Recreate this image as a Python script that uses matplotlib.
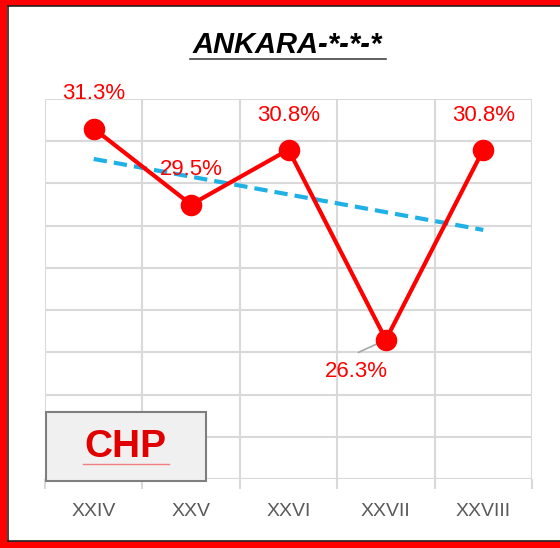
import numpy as np
import matplotlib
matplotlib.use('Agg')
import matplotlib.pyplot as plt
from matplotlib.patches import Rectangle

plt.rcParams['font.family'] = ['Liberation Sans', 'DejaVu Sans']

terms = ['XXIV', 'XXV', 'XXVI', 'XXVII', 'XXVIII']
chp_share = [31.3, 29.5, 30.8, 26.3, 30.8]
title = 'ANKARA-*-*-*'
party = 'CHP'

x = np.arange(1, len(terms) + 1)

fig = plt.figure(figsize=(5.6, 5.48), dpi=100)
ax = fig.add_axes([0.0804, 0.1259, 0.8696, 0.6934])

# trend line (linear fit)
k, b = np.polyfit(x, chp_share, 1)
ax.plot(x, k * x + b, color='#1fb0e6', lw=3, dashes=(3.2, 1.7), zorder=2)

ax.plot(x, chp_share, color='#ff0000', lw=3, marker='o', ms=14.5, zorder=3)

ax.set_xlim(0.5, len(terms) + 0.5)
ax.set_ylim(23, 32)
ax.set_yticks(np.arange(23, 33, 1))
ax.set_xticks(x)
ax.set_xticklabels(terms, fontsize=14, color='#595959')
ax.set_xticks(np.arange(0.5, len(terms) + 1, 1), minor=True)
ax.tick_params(axis='x', which='major', length=0, pad=17)
ax.tick_params(axis='x', which='minor', length=7, color='#d9d9d9', width=1.5)
ax.tick_params(axis='y', length=0, labelleft=False)
ax.grid(True, which='minor', axis='x', color='#d9d9d9', lw=1.5)
ax.grid(True, which='major', axis='y', color='#d9d9d9', lw=1.5)
ax.set_axisbelow(True)
for s in ax.spines.values():
    s.set_visible(False)

# data labels
offsets = [(0.0, 0.84), (0.0, 0.82), (0.0, 0.8), (-0.3, -0.76), (0.0, 0.8)]
for xi, yi, (dx, dy) in zip(x, chp_share, offsets):
    ax.text(xi + dx, yi + dy, '%.1f%%' % yi, color='#ff0000', fontsize=16,
            ha='center', va='center', zorder=4)
ax.plot([3.72, 4.0], [26.0, 26.3], color='#a6a6a6', lw=1.2, zorder=2)

# title
fig.text(0.513, 0.918, title, fontsize=21, fontweight='bold', fontstyle='italic',
         ha='center', va='center')
fig.add_artist(plt.Line2D([0.339, 0.69], [0.893, 0.893], color='#444444', lw=1.2))

# party box
fig.add_artist(Rectangle((0.082, 0.123), 0.286, 0.126, facecolor='#f0f0f0',
                         edgecolor='#7f7f7f', lw=1.5, zorder=5))
fig.text(0.224, 0.185, party, fontsize=28, fontweight='bold', color='#e00000',
         ha='center', va='center', zorder=6)
fig.add_artist(plt.Line2D([0.148, 0.302], [0.153, 0.153], color='#f08080', lw=1, zorder=6))

# frame
red = '#ff0000'
fig.add_artist(Rectangle((0, 0), 0.013, 1, facecolor=red, edgecolor='none'))
fig.add_artist(Rectangle((0, 0.989), 1, 0.011, facecolor=red, edgecolor='none'))
fig.add_artist(Rectangle((0, 0), 1, 0.013, facecolor=red, edgecolor='none'))
fig.add_artist(plt.Line2D([0.0135, 0.0135], [0.0135, 0.9885], color='#222222', lw=1.2))
fig.add_artist(plt.Line2D([0.0135, 1], [0.9885, 0.9885], color='#222222', lw=1.2))
fig.add_artist(plt.Line2D([0.0135, 1], [0.0135, 0.0135], color='#222222', lw=1.2))

fig.savefig('out.png', dpi=100)
